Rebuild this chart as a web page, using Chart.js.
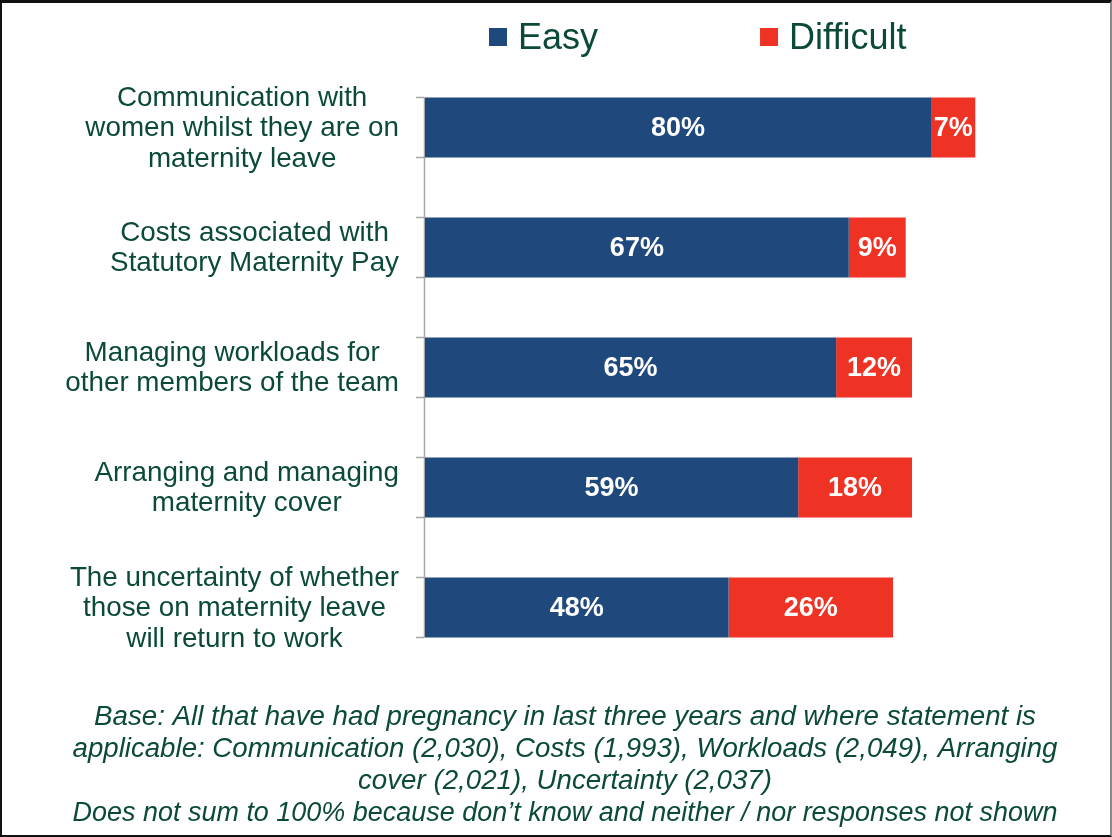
<!DOCTYPE html>
<html>
<head>
<meta charset="utf-8">
<script src="https://cdn.jsdelivr.net/npm/chart.js@4.4.1/dist/chart.umd.min.js"></script>
<style>
  html, body { margin: 0; padding: 0; background: #fff; }
  #frame {
    width: 1112px; height: 837px; box-sizing: border-box;
    border: 2px solid #111; border-top-width: 3px; border-right-color: #8a8a8a;
  }
  #frame canvas { display: block; }
</style>
</head>
<body>
<div id="frame"><canvas id="barChart" width="1108" height="832"></canvas></div>
<script>
const categories = [
  ['Communication with', 'women whilst they are on', 'maternity leave'],
  ['Costs associated with', 'Statutory Maternity Pay'],
  ['Managing workloads for', 'other members of the team'],
  ['Arranging and managing', 'maternity cover'],
  ['The uncertainty of whether', 'those on maternity leave', 'will return to work']
];
const seriesNames = ['Easy', 'Difficult'];
const easyValues = [80, 67, 65, 59, 48];
const difficultValues = [7, 9, 12, 18, 26];
const footnoteLines = [
  'Base: All that have had pregnancy in last three years and where statement is',
  'applicable: Communication (2,030), Costs (1,993), Workloads (2,049), Arranging',
  'cover (2,021), Uncertainty (2,037)',
  'Does not sum to 100% because don\u2019t know and neither / nor responses not shown'
];

const FONT = '"Liberation Sans", Arial, sans-serif';
const TEXT = '#0b4a3b';

// white % labels in the middle of each segment
const barLabels = {
  id: 'barLabels',
  afterDatasetsDraw(chart) {
    const ctx = chart.ctx;
    ctx.save();
    ctx.fillStyle = '#ffffff';
    ctx.font = 'bold 27px ' + FONT;
    ctx.textAlign = 'center';
    ctx.textBaseline = 'middle';
    chart.data.datasets.forEach((ds, i) => {
      chart.getDatasetMeta(i).data.forEach((bar, j) => {
        const p = bar.getCenterPoint();
        ctx.fillText(ds.data[j] + '%', p.x, p.y + 1);
      });
    });
    ctx.restore();
  }
};

// grey category axis line with small ticks at the bar edges
const categoryAxis = {
  id: 'categoryAxis',
  beforeDatasetsDraw(chart) {
    const ctx = chart.ctx;
    const x0 = chart.scales.x.getPixelForValue(0);
    const bars = chart.getDatasetMeta(0).data;
    const first = bars[0], last = bars[bars.length - 1];
    ctx.save();
    ctx.strokeStyle = '#a6a6a6';
    ctx.lineWidth = 1.5;
    ctx.beginPath();
    ctx.moveTo(x0 - 0.5, first.y - first.height / 2);
    ctx.lineTo(x0 - 0.5, last.y + last.height / 2);
    bars.forEach(b => {
      [b.y - b.height / 2, b.y + b.height / 2].forEach(yy => {
        ctx.moveTo(x0 - 9, yy);
        ctx.lineTo(x0 - 0.5, yy);
      });
    });
    ctx.stroke();
    ctx.restore();
  }
};

// category text: each block centred on its own widest line, blocks flush right
const categoryLabels = {
  id: 'categoryLabels',
  afterDraw(chart) {
    const ctx = chart.ctx;
    const yScale = chart.scales.y;
    const rightEdge = yScale.right - 26;
    const lineH = 30.5;
    ctx.save();
    ctx.font = '27.8px ' + FONT;
    ctx.fillStyle = TEXT;
    ctx.textAlign = 'center';
    ctx.textBaseline = 'middle';
    chart.data.labels.forEach((lines, i) => {
      const cy = yScale.getPixelForTick(i) + 1;
      const widest = Math.max(...lines.map(t => ctx.measureText(t).width));
      const cx = rightEdge - widest / 2;
      lines.forEach((t, k) => {
        ctx.fillText(t, cx, cy + (k - (lines.length - 1) / 2) * lineH);
      });
    });
    ctx.restore();
  }
};

// legend row above the plot
const topLegend = {
  id: 'topLegend',
  afterDraw(chart) {
    const ctx = chart.ctx;
    ctx.save();
    ctx.font = '36px ' + FONT;
    ctx.textBaseline = 'alphabetic';
    ctx.textAlign = 'left';
    let x = 487;
    chart.data.datasets.forEach(ds => {
      ctx.fillStyle = ds.backgroundColor;
      ctx.fillRect(x, 25, 18, 18);
      ctx.fillStyle = TEXT;
      ctx.fillText(ds.label, x + 29, 46);
      x += 29 + ctx.measureText(ds.label).width + 162;
    });
    ctx.restore();
  }
};

new Chart(document.getElementById('barChart'), {
  type: 'bar',
  data: {
    labels: categories,
    datasets: [
      { label: seriesNames[0], data: easyValues, backgroundColor: '#1f497d' },
      { label: seriesNames[1], data: difficultValues, backgroundColor: '#ee3224' }
    ]
  },
  options: {
    indexAxis: 'y',
    responsive: false,
    animation: false,
    barPercentage: 0.5,
    categoryPercentage: 1,
    layout: { padding: { left: 70.5, right: 52.5, top: 64.5, bottom: 0 } },
    scales: {
      x: { stacked: true, min: 0, max: 100, display: false },
      y: {
        stacked: true,
        grid: { display: false, drawTicks: false },
        border: { display: false },
        ticks: { display: false },
        afterFit(scale) { scale.width = 352.5; }
      }
    },
    plugins: {
      legend: { display: false },
      tooltip: { enabled: false },
      title: {
        display: true,
        position: 'bottom',
        text: footnoteLines,
        color: TEXT,
        font: { family: FONT, size: 27.7, style: 'italic', weight: 'normal', lineHeight: 1.155 },
        padding: { top: 34, bottom: 5.5 }
      }
    }
  },
  plugins: [categoryAxis, barLabels, categoryLabels, topLegend]
});
</script>
</body>
</html>
